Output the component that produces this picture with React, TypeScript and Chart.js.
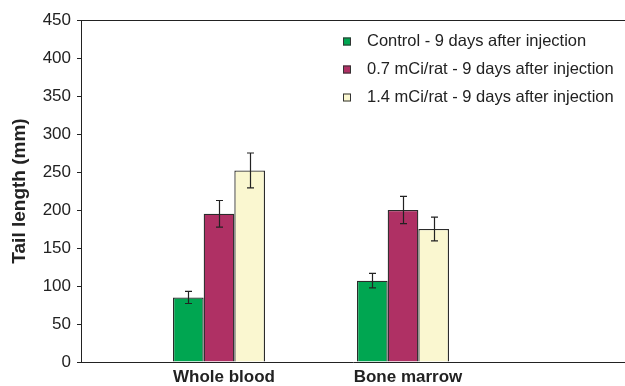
import React, { useEffect, useRef } from "react";
import { Chart, registerables } from "chart.js";

Chart.register(...registerables);

// Sample groups along the x axis
const categories = ["Whole blood", "Bone marrow"];
const categoryPositions = [1, 2];

// Dose groups
const seriesLabels = [
  "Control - 9 days after injection",
  "0.7 mCi/rat - 9 days after injection",
  "1.4 mCi/rat - 9 days after injection",
];

// Mean tail length (mm) per group, and the error half-widths
const controlValues = [85, 107];
const lowDoseValues = [195, 200];
const highDoseValues = [252, 175];

const controlErrors = [8, 9.5];
const lowDoseErrors = [17.5, 18];
const highDoseErrors = [23, 15.5];

const yTicks = [0, 50, 100, 150, 200, 250, 300, 350, 400, 450];

const seriesColors = ["#00A651", "#AF3064", "#FAF7D0"];
const FONT = "'Liberation Sans', Arial, Helvetica, sans-serif";
const INK = "#222222";

const errorBarsPlugin = {
  id: "errorBars",
  afterDatasetsDraw(chart: any) {
    const { ctx, scales } = chart;
    const y = scales.y;
    ctx.save();
    ctx.strokeStyle = INK;
    ctx.lineWidth = 1.2;
    chart.data.datasets.forEach((ds: any, di: number) => {
      const meta = chart.getDatasetMeta(di);
      meta.data.forEach((bar: any, i: number) => {
        const v = ds.data[i].y;
        const e = ds.errors[i];
        const top = y.getPixelForValue(v + e);
        const bot = y.getPixelForValue(v - e);
        const x = Math.round(bar.x) + 0.5;
        const cap = 3.5;
        ctx.beginPath();
        ctx.moveTo(x, top);
        ctx.lineTo(x, bot);
        ctx.moveTo(x - cap, top);
        ctx.lineTo(x + cap, top);
        ctx.moveTo(x - cap, bot);
        ctx.lineTo(x + cap, bot);
        ctx.stroke();
      });
    });
    ctx.restore();
  },
};

const frameAndLegendPlugin = {
  id: "frameAndLegend",
  afterDraw(chart: any) {
    const { ctx, chartArea } = chart;
    ctx.save();
    // top frame line
    ctx.strokeStyle = INK;
    ctx.lineWidth = 1;
    ctx.beginPath();
    ctx.moveTo(chartArea.left, Math.round(chartArea.top) + 0.5);
    ctx.lineTo(chartArea.right, Math.round(chartArea.top) + 0.5);
    ctx.stroke();

    // legend inside the plot, top right
    const boxX = chartArea.right - 282;
    const textX = chartArea.right - 258;
    ctx.font = `16.5px ${FONT}`;
    ctx.textBaseline = "middle";
    ctx.textAlign = "left";
    chart.data.datasets.forEach((ds: any, i: number) => {
      const cy = chartArea.top + 21.5 + i * 28;
      ctx.fillStyle = ds.backgroundColor;
      ctx.fillRect(boxX, cy - 4, 8, 8);
      ctx.strokeStyle = "#333";
      ctx.lineWidth = 1;
      ctx.strokeRect(boxX + 0.5, cy - 3.5, 7, 7);
      ctx.fillStyle = INK;
      ctx.fillText(ds.label, textX, cy);
    });
    ctx.restore();
  },
};

export default function App() {
  const canvasRef = useRef<HTMLCanvasElement | null>(null);

  useEffect(() => {
    if (!canvasRef.current) return;
    const build = (values: number[], errors: number[], i: number) => ({
      label: seriesLabels[i],
      data: values.map((v, k) => ({ x: categoryPositions[k], y: v })),
      errors,
      backgroundColor: seriesColors[i],
      borderColor: "#2b2b2b",
      borderWidth: 1.3,
      borderSkipped: "bottom",
      categoryPercentage: 0.5,
      barPercentage: 1,
    });

    const chart = new Chart(canvasRef.current, {
      type: "bar",
      data: {
        datasets: [
          build(controlValues, controlErrors, 0),
          build(lowDoseValues, lowDoseErrors, 1),
          build(highDoseValues, highDoseErrors, 2),
        ] as any,
      },
      options: {
        responsive: false,
        animation: false,
        layout: { padding: { top: 20, left: 0, right: 0, bottom: 0 } },
        plugins: {
          legend: { display: false },
          tooltip: { enabled: false },
        },
        scales: {
          x: {
            type: "linear",
            offset: false,
            min: 0.25,
            max: 3.2065,
            afterBuildTicks: (scale: any) => {
              scale.ticks = categoryPositions.map((v) => ({ value: v }));
            },
            afterFit: (scale: any) => {
              scale.height = 24;
            },
            grid: { display: false, drawTicks: false, offset: false },
            border: { display: true, color: INK, width: 1 },
            ticks: {
              autoSkip: false,
              maxRotation: 0,
              padding: 5,
              labelOffset: 5,
              color: INK,
              font: { family: FONT, size: 17, weight: "bold" },
              callback: (v: any) => categories[categoryPositions.indexOf(Number(v))] ?? "",
            },
          },
          y: {
            min: 0,
            max: 450,
            afterBuildTicks: (scale: any) => {
              scale.ticks = yTicks.map((v) => ({ value: v }));
            },
            afterFit: (scale: any) => {
              scale.width = 81;
            },
            grid: { drawOnChartArea: false, drawTicks: true, tickLength: 4, color: INK },
            border: { display: true, color: INK, width: 1 },
            ticks: {
              padding: 6,
              color: INK,
              font: { family: FONT, size: 17 },
            },
            title: {
              display: true,
              text: "Tail length (mm)",
              color: INK,
              font: { family: FONT, size: 19, weight: "bold" },
              padding: { top: 8, bottom: 0 },
            },
          },
        },
      },
      plugins: [errorBarsPlugin, frameAndLegendPlugin],
    } as any);

    return () => chart.destroy();
  }, []);

  return (
    <div style={{ position: "fixed", left: 0, top: 0, width: 625, height: 386, background: "#fff" }}>
      <canvas ref={canvasRef} width={625} height={386} style={{ display: "block" }} />
    </div>
  );
}
